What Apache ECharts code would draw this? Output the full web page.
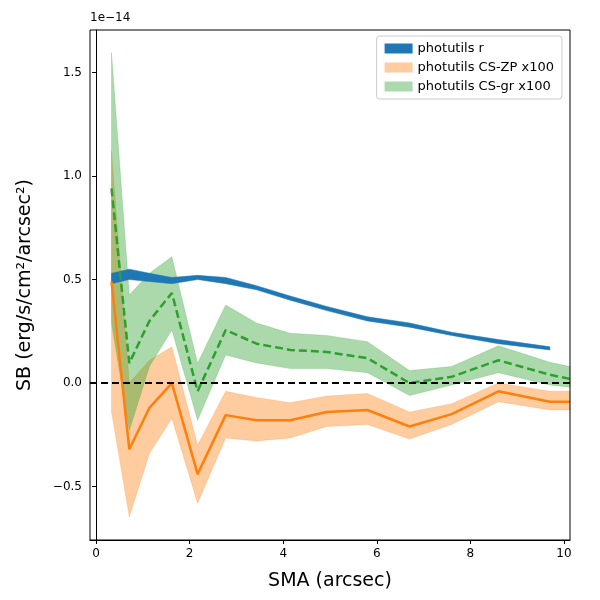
<!DOCTYPE html>
<html>
<head>
<meta charset="utf-8">
<script src="https://cdn.jsdelivr.net/npm/echarts@6/dist/echarts.min.js"></script>
<style>
  html, body { margin: 0; padding: 0; background: #fff; }
  #chart { width: 600px; height: 600px; }
</style>
</head>
<body>
<div id="chart"></div>
<script>
// radii (arcsec); values in units of 1e-14
const sma = [0.33, 0.71, 1.14, 1.62, 2.17, 2.77, 3.43, 4.15, 4.93, 5.8, 6.7, 7.6, 8.6, 9.7];
const smaExt = sma.concat([10.13]);

const rLow  = [0.48, 0.50, 0.49, 0.48, 0.50, 0.48, 0.45, 0.40, 0.35, 0.30, 0.27, 0.23, 0.19, 0.16];
const rHigh = [0.53, 0.55, 0.53, 0.51, 0.52, 0.51, 0.47, 0.42, 0.37, 0.32, 0.29, 0.245, 0.21, 0.175];

const zpMid  = [0.49, -0.32, -0.12, 0.0, -0.44, -0.155, -0.18, -0.18, -0.14, -0.13, -0.21, -0.15, -0.04, -0.09, -0.09];
const zpLow  = [-0.14, -0.646, -0.34, -0.17, -0.58, -0.265, -0.28, -0.265, -0.21, -0.2, -0.27, -0.2, -0.09, -0.13, -0.13];
const zpHigh = [1.12, 0.0, 0.11, 0.175, -0.3, -0.04, -0.07, -0.095, -0.063, -0.05, -0.14, -0.1, 0.0, -0.04, -0.04];

const grMid  = [0.94, 0.096, 0.30, 0.435, -0.04, 0.256, 0.19, 0.16, 0.15, 0.12, 0.0, 0.03, 0.11, 0.04, 0.02];
const grLow  = [0.29, -0.23, 0.08, 0.256, -0.18, 0.135, 0.097, 0.07, 0.07, 0.05, -0.06, -0.01, 0.05, -0.01, -0.02];
const grHigh = [1.595, 0.425, 0.53, 0.61, 0.096, 0.377, 0.29, 0.24, 0.23, 0.2, 0.06, 0.08, 0.18, 0.1, 0.08];

const xTicks = [0, 2, 4, 6, 8, 10];
const yTicks = [-0.5, 0, 0.5, 1.0, 1.5];

const pairs = (xs, ys) => ys.map((v, i) => [xs[i], v]);

// fill between lo and hi as one polygon
function band(name, xs, lo, hi, color) {
  return {
    name: name, type: 'custom', z: 1,
    itemStyle: { color: color },
    data: xs.map((x, i) => [x, lo[i], hi[i]]),
    encode: { x: 0, y: [1, 2] },
    renderItem: function (params, api) {
      if (params.dataIndex !== 0) return;
      const top = [], bot = [];
      for (let i = 0; i < xs.length; i++) {
        top.push(api.coord([xs[i], hi[i]]));
        bot.unshift(api.coord([xs[i], lo[i]]));
      }
      return { type: 'polygon', shape: { points: top.concat(bot) },
               style: { fill: color, stroke: color, lineWidth: 0.5 } };
    }
  };
}

const chart = echarts.init(document.getElementById('chart'));
const fmt = v => (v < 0 ? '\u2212' : '') + Math.abs(v).toFixed(1);

chart.setOption({
  animation: false,
  grid: { left: 90, right: 30, top: 30, bottom: 60 },
  legend: {
    right: 38, top: 36, orient: 'vertical', itemGap: 6,
    itemWidth: 28, itemHeight: 10, icon: 'rect',
    borderColor: '#ccc', borderWidth: 1, borderRadius: 3, padding: [6, 8],
    textStyle: { fontSize: 13, color: '#000', fontFamily: 'DejaVu Sans' },
    data: [
      { name: 'photutils r', itemStyle: { color: '#1f77b4' } },
      { name: 'photutils CS-ZP x100', itemStyle: { color: 'rgba(255,127,14,0.4)' } },
      { name: 'photutils CS-gr x100', itemStyle: { color: 'rgba(44,160,44,0.4)' } }
    ]
  },
  xAxis: {
    type: 'value', min: -0.13, max: 10.13,
    name: 'SMA (arcsec)', nameLocation: 'middle', nameGap: 32,
    nameTextStyle: { fontSize: 19, color: '#000', fontFamily: 'DejaVu Sans' },
    axisLine: { onZero: false, lineStyle: { color: '#000' } },
    axisTick: { show: true, customValues: xTicks, length: 4, lineStyle: { color: '#000' } },
    axisLabel: { customValues: xTicks, color: '#000', fontSize: 12, fontFamily: 'DejaVu Sans' },
    splitLine: { show: false }
  },
  yAxis: {
    type: 'value', min: -0.758, max: 1.705,
    name: 'SB (erg/s/cm\u00b2/arcsec\u00b2)', nameLocation: 'middle', nameGap: 55,
    nameTextStyle: { fontSize: 19, color: '#000', fontFamily: 'DejaVu Sans' },
    axisLine: { show: true, lineStyle: { color: '#000' } },
    axisTick: { show: true, customValues: yTicks, length: 4, lineStyle: { color: '#000' } },
    axisLabel: { customValues: yTicks, formatter: fmt, color: '#000', fontSize: 12, fontFamily: 'DejaVu Sans' },
    splitLine: { show: false }
  },
  graphic: [
    { type: 'text', left: 90, top: 12, style: { text: '1e\u221214', fontSize: 12, fill: '#000', fontFamily: 'DejaVu Sans' } },
    { type: 'rect', shape: { x: 90, y: 30, width: 480, height: 510 }, style: { fill: 'none', stroke: '#000', lineWidth: 1 }, z: 100 }
  ],
  series: [
    band('photutils CS-ZP x100', smaExt, zpLow, zpHigh, 'rgba(255,127,14,0.4)'),
    band('photutils CS-gr x100', smaExt, grLow, grHigh, 'rgba(44,160,44,0.4)'),
    band('photutils r', sma, rLow, rHigh, '#1f77b4'),
    { type: 'line', data: pairs(smaExt, zpMid), symbol: 'none', z: 3,
      lineStyle: { color: '#ff7f0e', width: 2.5 } },
    { type: 'line', data: pairs(smaExt, grMid), symbol: 'none', z: 3,
      lineStyle: { color: '#2ca02c', width: 2.5, type: [8, 4] } },
    { type: 'line', data: [[-0.13, 0], [10.13, 0]], symbol: 'none', z: 4,
      lineStyle: { color: '#000', width: 2, type: [7, 4] } }
  ]
});
</script>
</body>
</html>
